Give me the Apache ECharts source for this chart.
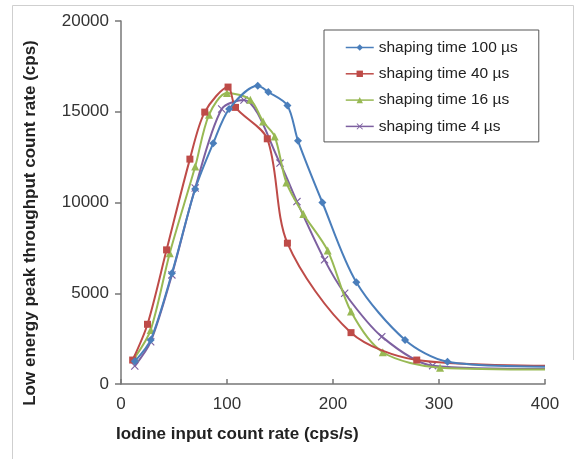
<!DOCTYPE html>
<html>
<head>
<meta charset="utf-8">
<script src="https://cdn.jsdelivr.net/npm/echarts@6/dist/echarts.min.js"></script>
<style>
  html, body { margin: 0; padding: 0; background: #fff; }
  #chart { width: 583px; height: 459px; }
</style>
</head>
<body>
<div id="chart"></div>
<script>
// Input count rate (cps/s) and throughput (cps) for each shaping time.
// The last point of every curve sits on the axis end and carries no marker.
const seriesNames = ['shaping time 100 µs', 'shaping time 40 µs', 'shaping time 16 µs', 'shaping time 4 µs'];

const x100 = [13, 28, 48, 70, 87, 102, 129, 139, 157, 167, 190, 222, 268, 308, 400];
const y100 = [1250, 2430, 6100, 10740, 13270, 15150, 16430, 16090, 15350, 13400, 10000, 5610, 2430, 1230, 950];

const x40 = [11, 25, 43, 65, 79, 101, 108, 138, 157, 217, 279, 400];
const y40 = [1320, 3290, 7390, 12390, 14980, 16360, 15240, 13510, 7760, 2830, 1320, 1010];

const x16 = [13, 28, 46, 70, 83, 100, 122, 134, 145, 156, 172, 195, 217, 247, 301, 400];
const y16 = [1450, 2980, 7210, 11980, 14830, 16030, 15660, 14460, 13640, 11100, 9370, 7350, 3990, 1750, 900, 800];

const x4 = [13, 28, 48, 70, 95, 116, 150, 166, 192, 211, 246, 294, 400];
const y4 = [990, 2330, 6010, 10800, 15150, 15650, 12170, 10050, 6840, 5000, 2610, 1010, 830];

const xTicks = [0, 100, 200, 300, 400];
const yTicks = [0, 5000, 10000, 15000, 20000];

const xTitle = 'Iodine input count rate (cps/s)';
const yTitle = 'Low energy peak throughput count rate (cps)';

const colors = ['#4A7EBB', '#BE4B48', '#98B954', '#7D60A0'];
const symbols = [
  'diamond',
  'rect',
  'triangle',
  'path://M1,0 L5,4 L9,0 L10,1 L6,5 L10,9 L9,10 L5,6 L1,10 L0,9 L4,5 L0,1 Z'
];
const symbolSizes = [8, 7, 8, 8];

function pairs(xs, ys) {
  return xs.map(function (x, i) {
    const item = { value: [x, ys[i]] };
    if (i === xs.length - 1) item.symbol = 'none';
    return item;
  });
}

const datasets = [pairs(x100, y100), pairs(x40, y40), pairs(x16, y16), pairs(x4, y4)];

const FONT = 'Liberation Sans, Arial, sans-serif';
const chart = echarts.init(document.getElementById('chart'), null, { renderer: 'canvas' });

chart.setOption({
  animation: false,
  backgroundColor: '#fff',
  graphic: [
    {
      type: 'polyline',
      shape: { points: [[12.5, 459], [12.5, 5.5], [573.5, 5.5], [573.5, 360]] },
      style: { stroke: '#cfcfcf', lineWidth: 1, fill: null },
      silent: true
    },
    {
      type: 'text',
      left: 116,
      top: 426,
      style: { text: xTitle, font: 'bold 17px ' + FONT, fill: '#222' },
      silent: true
    },
    {
      type: 'text',
      x: 30,
      y: 223,
      rotation: Math.PI / 2,
      style: { text: yTitle, font: 'bold 17px ' + FONT, fill: '#222', align: 'center', verticalAlign: 'middle' },
      silent: true
    }
  ],
  grid: { left: 121, top: 21, width: 424, height: 363, containLabel: false },
  legend: {
    orient: 'vertical',
    left: 324,
    top: 30,
    padding: [9, 21, 7, 21],
    itemGap: 9.3,
    itemWidth: 28,
    itemHeight: 8,
    borderColor: '#555',
    borderWidth: 1,
    backgroundColor: '#fff',
    lineStyle: { width: 1.5 },
    textStyle: { fontFamily: FONT, fontSize: 15.5, lineHeight: 17, color: '#222' },
    data: seriesNames
  },
  xAxis: {
    type: 'value',
    min: xTicks[0],
    max: xTicks[xTicks.length - 1],
    interval: 100,
    axisLine: { show: true, onZero: false, lineStyle: { color: '#777', width: 1.5 } },
    axisTick: { show: true, inside: true, length: 5, lineStyle: { color: '#777', width: 1.5 } },
    axisLabel: {
      margin: 12, fontFamily: FONT, fontSize: 17, color: '#333',
      formatter: function (v) { return xTicks.indexOf(v) >= 0 ? String(v) : ''; }
    },
    splitLine: { show: false }
  },
  yAxis: {
    type: 'value',
    min: yTicks[0],
    max: yTicks[yTicks.length - 1],
    interval: 5000,
    axisLine: { show: true, lineStyle: { color: '#777', width: 1.5 } },
    axisTick: { show: true, inside: false, length: 6, lineStyle: { color: '#777', width: 1.5 } },
    axisLabel: {
      margin: 12, fontFamily: FONT, fontSize: 17, color: '#333',
      formatter: function (v) { return yTicks.indexOf(v) >= 0 ? String(v) : ''; }
    },
    splitLine: { show: false }
  },
  series: seriesNames.map(function (name, i) {
    return {
      name: name,
      type: 'line',
      data: datasets[i],
      smooth: 0.3,
      symbol: symbols[i],
      symbolSize: symbolSizes[i],
      showAllSymbol: true,
      clip: true,
      z: 10 - i,
      lineStyle: { color: colors[i], width: 2 },
      itemStyle: { color: colors[i], borderWidth: 0 }
    };
  })
});
</script>
</body>
</html>
